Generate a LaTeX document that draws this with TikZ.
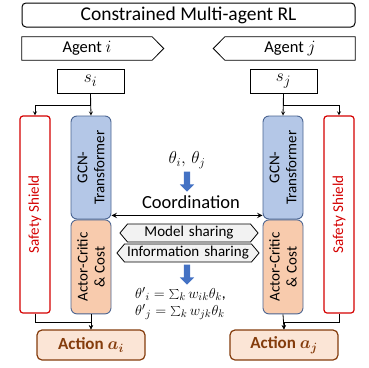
\documentclass[tikz,border=0pt]{standalone}
\usepackage{bm}
\usepackage{fontspec}
\setmainfont{Carlito}
\usepackage{xcolor}
\usetikzlibrary{shapes.symbols, shapes.arrows, arrows, calc}
\definecolor{gcnblue}{HTML}{B4C7E7}
\definecolor{acorange}{HTML}{F8CBAD}
\definecolor{edgeblue}{HTML}{4A6491}
\definecolor{shieldred}{HTML}{D40000}
\definecolor{actfill}{HTML}{FBE5D6}
\definecolor{actbrown}{HTML}{843C0C}
\definecolor{sharegray}{HTML}{F2F2F2}
\definecolor{arrowblue}{HTML}{4472C4}
\tikzstyle{title} = [rectangle, rounded corners=4pt, minimum width=333pt, minimum height=24pt, draw=black, line width=1pt, font=\fontsize{19.5}{22}\selectfont]
\tikzstyle{agent} = [rectangle, minimum width=130pt, minimum height=23pt, font=\fontsize{16.5}{19}\selectfont]
\tikzstyle{agentline} = [draw=black, line width=0.8pt, line join=miter]
\tikzstyle{state} = [rectangle, minimum width=67pt, minimum height=24pt, draw=black, line width=0.9pt, font=\fontsize{19}{22}\selectfont]
\tikzstyle{shield} = [rectangle, rotate=90, rounded corners=3pt, minimum width=197pt, minimum height=30pt, draw=shieldred, line width=1.2pt, text=shieldred, font=\fontsize{15}{17}\selectfont]
\tikzstyle{module} = [rectangle, rotate=90, rounded corners=6pt, minimum height=40pt, draw=edgeblue, line width=0.9pt, align=center, font=\fontsize{15}{17}\selectfont]
\tikzstyle{action} = [rectangle, rounded corners=5pt, minimum width=108pt, minimum height=30pt, fill=actfill, draw=actbrown, line width=1.2pt, text=actbrown, font=\fontsize{17}{20}\selectfont\bfseries]
\tikzstyle{share} = [signal, signal to=west and east, signal pointer angle=100, align=center, inner ysep=0pt, minimum height=18pt, fill=sharegray, draw=black, line width=0.8pt, font=\fontsize{15}{17}\selectfont]
\tikzstyle{bluearrow} = [single arrow, rotate=-90, fill=arrowblue, inner sep=3pt, single arrow head extend=4pt, minimum height=20pt]
\tikzstyle{arrow} = [->,>=stealth, line width=0.8pt]
\tikzstyle{coord} = [<->,>=stealth, line width=1.4pt]

\begin{document}
\begin{tikzpicture}[x=1pt, y=-1pt]
\useasboundingbox (0,0) rectangle (369,367);

% Header
\node (rl) [title] at (188.5,15) {Constrained Multi-agent RL};
\node (agenti) [agent] at (87,48.5) {Agent $i$};
\node (agentj) [agent] at (290,48.5) {Agent $j$};
\draw [agentline] (agenti.north west) -- (agenti.north east) -- ($(agenti.east)+(11.5,0)$) -- (agenti.south east) -- (agenti.south west) -- cycle;
\draw [agentline] (agentj.north east) -- (agentj.north west) -- ($(agentj.west)+(-11.5,0)$) -- (agentj.south west) -- (agentj.south east) -- cycle;
\node (si) [state] at (90.5,81) {$s_i$};
\node (sj) [state] at (283.5,81) {$s_j$};

% Agent i
\node (shieldi) [shield] at (35,214.5) {Safety Shield};
\node (gcni) [module, minimum width=103pt, fill=gcnblue] at (91,167.5) {GCN-\\Transformer};
\node (actori) [module, minimum width=94pt, fill=acorange, anchor=east] at (gcni.west) {Actor-Critic\\\& Cost};
\node (actioni) [action] at (91,345) {Action $\bm{a_i}$};

% Agent j
\node (shieldj) [shield] at (339,214.5) {Safety Shield};
\node (gcnj) [module, minimum width=103pt, fill=gcnblue] at (283,167.5) {GCN-\\Transformer};
\node (actorj) [module, minimum width=94pt, fill=acorange, anchor=east] at (gcnj.west) {Actor-Critic\\\& Cost};
\node (actionj) [action] at (284,345) {Action $\bm{a_j}$};

% Coordination
\node (theta) [font=\fontsize{17}{20}\selectfont] at (187,160) {$\theta_i,\,\theta_j$};
\node (down1) [bluearrow] at (187,180) {};
\node (coordtext) [font=\fontsize{18.5}{21}\selectfont] at (191,202) {Coordination};
\node (model) [share, text width=100pt, inner xsep=11.5pt] at (189,233) {Model sharing};
\node (info) [share, text width=125pt, inner xsep=1pt] at (188,253) {Information sharing};
\node (down2) [bluearrow] at (187,273) {};
\node (update) [anchor=west, align=left, inner sep=0pt, font=\fontsize{15.5}{17}\selectfont] at (135,303.5) {$\theta'{}_i = \sum_k w_{ik}\theta_k$,\\$\theta'{}_j = \sum_k w_{jk}\theta_k$};

\draw [coord] ($(gcni.south west)+(0,-4)$) -- ($(gcnj.north west)+(0,-4)$);

% Connectors
\draw [arrow] (si.south) -- (gcni.east);
\draw [arrow] (si.south) -- ++(0,12) -| (shieldi.east);
\draw [arrow] (sj.south) -- (gcnj.east);
\draw [arrow] (sj.south) -- ++(0,12) -| (shieldj.east);
\draw [arrow] (actori.west) -- (actioni.north);
\draw [arrow] (shieldi.west) -- ++(0,9) -| (actioni.north);
\draw [arrow] (actorj.west) -- (actionj.north);
\draw [arrow] (shieldj.west) -- ++(0,9) -| (actionj.north);

\end{tikzpicture}
\end{document}
